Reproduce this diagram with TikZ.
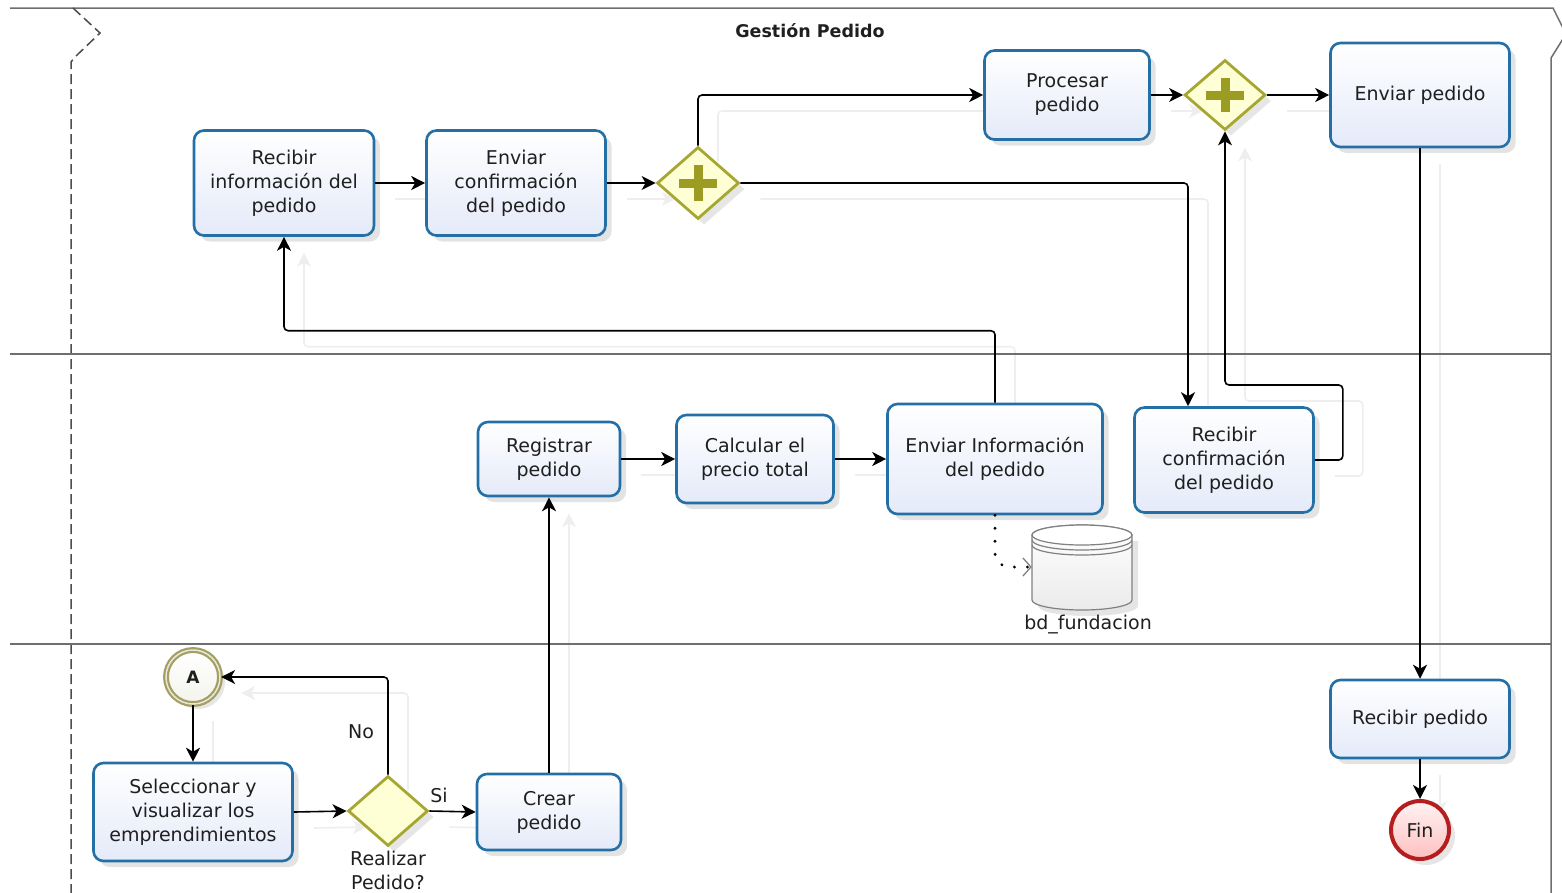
\documentclass[tikz,border=0pt]{standalone}
\usepackage{fontspec}
\setmainfont{DejaVu Sans}
\usetikzlibrary{shapes.geometric,shadows,arrows.meta,calc}
\definecolor{taskblue}{HTML}{2470A6}
\definecolor{taskfill}{HTML}{E4EAF9}
\definecolor{gwline}{HTML}{A6A632}
\definecolor{gwfill}{HTML}{FFFFD6}
\definecolor{gwplus}{HTML}{9C9C22}
\definecolor{evline}{HTML}{A39E64}
\definecolor{finred}{HTML}{B41E1E}
\definecolor{lanegray}{HTML}{6E6E6E}
\definecolor{ghost}{HTML}{EEEEEE}

\pgfdeclarelayer{background}
\pgfsetlayers{background,main}

% a sequence flow together with its faint offset echo underneath
\newcommand{\seqflow}[1]{%
  \begin{pgfonlayer}{background}
    \draw[flowghost] #1;
  \end{pgfonlayer}
  \draw[flow] #1;}

\begin{document}
\begin{tikzpicture}[x=1pt,y=1pt,
  every node/.style={font=\fontsize{19}{24}\selectfont, text=black!88},
  task/.style={draw=taskblue, line width=2.6pt, rounded corners=10pt,
    top color=white, bottom color=taskfill, align=center, inner sep=2pt,
    drop shadow={opacity=0.22, shadow xshift=6pt, shadow yshift=-6pt}},
  gate/.style={diamond, draw=gwline, line width=2.8pt, fill=gwfill,
    inner sep=0pt, minimum width=82pt, minimum height=72pt,
    drop shadow={opacity=0.2, shadow xshift=6pt, shadow yshift=-6pt}},
  plus/.style={draw=gwplus, line width=9pt},
  flowtip/.style={-{Stealth[length=14pt,width=14pt,inset=4pt]}},
  flow/.style={draw=black, line width=1.6pt, rounded corners=4pt, flowtip},
  flowghost/.style={draw=ghost, line width=1.6pt, rounded corners=4pt, flowtip,
    transform canvas={shift={(20pt,-16pt)}}},
  assoc/.style={draw=black, line width=3.2pt, line cap=round,
    dash pattern=on 0pt off 13pt, rounded corners=14pt,
    -{Straight Barb[length=8pt,width=18pt,line width=1.3pt,color=gray]}},
  lane/.style={draw=lanegray, line width=1.5pt},
  lbl/.style={inner sep=1pt}
]
\useasboundingbox (0,0) rectangle (1562,-892);

% pool and lane borders
\begin{scope}
  \clip (0,0) rectangle (1562,-892);
  \draw[lane] (10,-8) -- (1553,-8) -- (1566,-34) -- (1551,-58) -- (1551,-900);
  \draw[lane, draw=black!70, dash pattern=on 10pt off 5pt] (73,-8) -- (100,-33) -- (75,-57) -- (71,-62) -- (71,-900);
  \draw[lane] (10,-354) -- (1551,-354);
  \draw[lane] (10,-644) -- (1551,-644);
\end{scope}
\node[font=\bfseries\fontsize{17.5}{20}\selectfont] (title) at (810,-31) {Gestión Pedido};

% upper lane
\node[task, minimum width=180pt, minimum height=105pt] (r1) at (284,-183) {Recibir\\información del\\pedido};
\node[task, minimum width=179pt, minimum height=105pt] (ec) at (516,-183) {Enviar\\confirmación\\del pedido};
\node[gate] (g1) at (698,-183) {};
\draw[plus] ($(g1)+(-19,0)$) -- ($(g1)+(19,0)$);
\draw[plus] ($(g1)+(0,-18)$) -- ($(g1)+(0,18)$);
\node[task, minimum width=165pt, minimum height=89pt] (proc) at (1067,-95) {Procesar\\pedido};
\node[gate, minimum width=81pt, minimum height=70pt] (g2) at (1225,-95) {};
\draw[plus] ($(g2)+(-19,0)$) -- ($(g2)+(19,0)$);
\draw[plus] ($(g2)+(0,-17)$) -- ($(g2)+(0,17)$);
\node[task, minimum width=179pt, minimum height=104pt] (env) at (1420,-95) {Enviar pedido};

% middle lane
\node[task, minimum width=142pt, minimum height=74pt] (reg) at (549,-459) {Registrar\\pedido};
\node[task, minimum width=157pt, minimum height=88pt] (calc) at (755,-459) {Calcular el\\precio total};
\node[task, minimum width=215pt, minimum height=110pt] (ei) at (995,-459) {Enviar Información\\del pedido};
\node[task, minimum width=179pt, minimum height=105pt] (rc) at (1224,-460) {Recibir\\confirmación\\del pedido};

% data store
\node[minimum width=100pt, minimum height=86pt, inner sep=0pt] (db) at (1082,-567) {};
\fill[black, opacity=0.10] (1038,-541) -- (1038,-606) arc[start angle=180,end angle=360,x radius=50,y radius=10] -- (1138,-541) -- cycle;
\draw[gray, line width=1.2pt, top color=white, bottom color=black!8]
  (1032,-535) -- (1032,-600) arc[start angle=180,end angle=360,x radius=50,y radius=10] -- (1132,-535)
  arc[start angle=0,end angle=180,x radius=50,y radius=10] -- cycle;
\draw[gray, line width=1.2pt, fill=white] (1082,-535) ellipse[x radius=50, y radius=10];
\draw[gray, line width=1.2pt] (1032,-540) arc[start angle=180,end angle=360,x radius=50,y radius=10];
\draw[gray, line width=1.2pt] (1032,-545) arc[start angle=180,end angle=360,x radius=50,y radius=10];
\node (dbl) at (1088,-625) {bd\_fundacion};

% lower lane
\node[circle, draw=evline, line width=2.2pt, double=evline!25!white, double distance=1.5pt,
  minimum size=54pt, inner sep=0pt, top color=white, bottom color=evline!12,
  drop shadow={opacity=0.2, shadow xshift=5pt, shadow yshift=-5pt},
  font=\bfseries\fontsize{17}{20}\selectfont] (evA) at (193,-677) {A};
\node[task, minimum width=199pt, minimum height=98pt] (sel) at (193,-812) {Seleccionar y\\visualizar los\\emprendimientos};
\node[gate, minimum width=80pt, minimum height=70pt] (g3) at (388,-811) {};
\node[task, minimum width=144pt, minimum height=76pt] (crear) at (549,-812) {Crear\\pedido};
\node[task, minimum width=179pt, minimum height=78pt] (rp) at (1420,-719) {Recibir pedido};
\node[circle, draw=finred, line width=4pt, minimum size=58pt, inner sep=0pt,
  top color=red!5, bottom color=red!25,
  drop shadow={opacity=0.2, shadow xshift=6pt, shadow yshift=-6pt}] (fin) at (1420,-830) {Fin};

% sequence flows
\seqflow{(r1) -- (ec)}
\seqflow{(ec) -- (g1)}
\seqflow{(g1.north) |- (proc.west)}
\seqflow{(g1.east) -| ([xshift=-36pt]rc.north)}
\seqflow{(proc) -- (g2)}
\seqflow{(g2) -- (env)}
\seqflow{(rc.east) -- ++(28,0) -- ++(0,75) -| (g2.south)}
\seqflow{(ei.north) -- ++(0,72) -| (r1.south)}
\seqflow{(reg) -- (calc)}
\seqflow{(calc) -- (ei)}
\seqflow{(crear) -- (reg)}
\seqflow{(env) -- (rp)}
\seqflow{(rp) -- (fin)}
\seqflow{(evA) -- (sel)}
\seqflow{(sel.east) -- (g3.west)}
\seqflow{(g3.north) |- (evA.east)}
\seqflow{(g3.east) -- (crear.west)}

% data association
\draw[assoc] (ei.south) |- (db.west);

% flow labels
\node[lbl] (lno) at (361,-732) {No};
\node[lbl] (lsi) at (439,-795) {Si};
\node[lbl, align=center] (lgw) at (388,-870) {Realizar\\Pedido?};
\end{tikzpicture}
\end{document}
